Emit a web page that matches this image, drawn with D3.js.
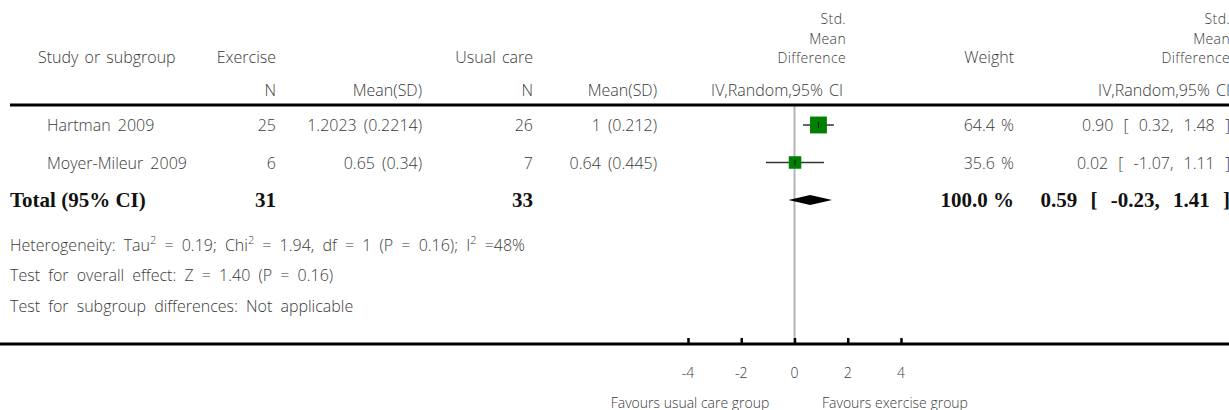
<!DOCTYPE html>
<html><head><meta charset="utf-8">
<script src="https://cdn.jsdelivr.net/npm/d3@7"></script>
<style>
body{margin:0;background:#fff;}
svg{display:block;}
text{font-family:"Open Sans",Lato,sans-serif;fill:#3a3a3a;font-weight:300;}
.b{font-family:"Liberation Serif","Times New Roman",serif;font-weight:bold;fill:#111;}
</style></head><body>
<svg id="c" width="1229" height="410"></svg>
<script>
const studies = ["Hartman 2009", "Moyer-Mileur 2009"];
const expN = [25, 6];
const expMeanSD = ["1.2023 (0.2214)", "0.65 (0.34)"];
const ctlN = [26, 7];
const ctlMeanSD = ["1 (0.212)", "0.64 (0.445)"];
const weights = [64.4, 35.6];
const smd = [0.90, 0.02];
const ciLow = [0.32, -1.07];
const ciHigh = [1.48, 1.11];
const totalExpN = 31, totalCtlN = 33;
const totalWeight = 100.0;
const totalSmd = 0.59, totalLow = -0.23, totalHigh = 1.41;
const axisTicks = [-4, -2, 0, 2, 4];
const favLeft = "Favours usual care group", favRight = "Favours exercise group";

const svg = d3.select("#c");
const W = 1229;
const loc = d3.formatLocale({decimal: ".", thousands: ",", grouping: [3], currency: ["", ""], minus: "-"});
const fmt2 = loc.format(".2f");
const fmtD = loc.format("d");
const x = d3.scaleLinear().domain([-4, 4]).range([688, 901]);
const yRow = d3.scaleLinear().domain([0, 1]).range([125, 162.5]);
const size = d3.scaleSqrt().domain([0, 100]).range([0, 21]);
const fs = 16;

function t(xp, yp, str, anchor, cls, f, ws) {
  return svg.append("text").attr("x", xp).attr("y", yp).attr("text-anchor", anchor || "start")
    .attr("dominant-baseline", "central").attr("class", cls || null)
    .style("font-size", (f || fs) + "px").style("word-spacing", (ws || 0) + "px").text(str);
}
function stack(xp, y0, lines) {
  lines.forEach((l, i) => t(xp, y0 + i * 19.5, l, "end", null, 14).style("letter-spacing", "0.35px"));
}

// header
const colStudy = 38, colEN = 276, colEM = 422, colCN = 533, colCM = 657, colPlot = 846, colW = 1014, colR = 1230;
t(colStudy, 57, "Study or subgroup", "start", null, fs, 2);
t(colEN, 57, "Exercise", "end");
t(colCN, 57, "Usual care", "end", null, fs, 2);
stack(colPlot, 18.5, ["Std.", "Mean", "Difference"]);
t(colW, 57, "Weight", "end");
stack(colR, 18.5, ["Std.", "Mean", "Difference"]);
t(colEN, 90, "N", "end"); t(colEM, 90, "Mean(SD)", "end");
t(colCN, 90, "N", "end"); t(colCM, 90, "Mean(SD)", "end");
t(843, 90, "IV,Random,95% CI", "end", null, fs, 2);
t(colR, 90, "IV,Random,95% CI", "end", null, fs, 2);

// zero line
svg.append("line").attr("x1", x(0)).attr("x2", x(0)).attr("y1", 105).attr("y2", 344)
  .attr("stroke", "#b4b4b4").attr("stroke-width", 2);
// top rule
svg.append("line").attr("x1", 10).attr("x2", W).attr("y1", 105).attr("y2", 105)
  .attr("stroke", "#000").attr("stroke-width", 3);

// study rows
studies.forEach((s, i) => {
  const y = yRow(i);
  t(47, y, s, "start", null, fs, 3);
  t(colEN, y, expN[i], "end");
  t(colEM, y, expMeanSD[i], "end", null, fs, 3);
  t(colCN, y, ctlN[i], "end");
  t(colCM, y, ctlMeanSD[i], "end", null, fs, 3);
  t(colW, y, weights[i].toFixed(1) + " %", "end", null, fs, 2);
  t(colR, y, fmt2(smd[i]) + " [ " + fmt2(ciLow[i]) + ", " + fmt2(ciHigh[i]) + " ]", "end", null, fs, 6);
  svg.append("line").attr("x1", x(ciLow[i])).attr("x2", x(ciHigh[i])).attr("y1", y).attr("y2", y)
    .attr("stroke", "#333").attr("stroke-width", 1.5);
  const sz = size(weights[i]);
  svg.append("rect").attr("x", x(smd[i]) - sz / 2).attr("y", y - sz / 2).attr("width", sz).attr("height", sz)
    .attr("fill", "#008000");
  svg.append("line").attr("x1", x(smd[i])).attr("x2", x(smd[i])).attr("y1", y - 3).attr("y2", y + 3)
    .attr("stroke", "#111").attr("stroke-width", 1);
});

// total row
const yT = yRow(2);
const fb = 21;
t(10, yT, "Total (95% CI)", "start", "b", fb);
t(colEN, yT, totalExpN, "end", "b", fb);
t(colCN, yT, totalCtlN, "end", "b", fb);
t(colW, yT, totalWeight.toFixed(1) + " %", "end", "b", fb);
t(colR, yT, fmt2(totalSmd) + " [ " + fmt2(totalLow) + ", " + fmt2(totalHigh) + " ]", "end", "b", fb, 8);
svg.append("path").attr("d", d3.line()([[x(totalLow), yT], [x(totalSmd), yT - 5], [x(totalHigh), yT], [x(totalSmd), yT + 5]]) + "Z")
  .attr("fill", "#000");

// heterogeneity lines
const h = t(10, 245, "", "start", null, fs, 4);
h.append("tspan").text("Heterogeneity: Tau");
h.append("tspan").attr("dy", -6).style("font-size", "11px").text("2");
h.append("tspan").attr("dy", 6).text(" = 0.19; Chi");
h.append("tspan").attr("dy", -6).style("font-size", "11px").text("2");
h.append("tspan").attr("dy", 6).text(" = 1.94, df = 1 (P = 0.16); I");
h.append("tspan").attr("dy", -6).style("font-size", "11px").text("2");
h.append("tspan").attr("dy", 6).text(" =48%");
t(10, 275, "Test for overall effect: Z = 1.40 (P = 0.16)", "start", null, fs, 4);
t(10, 306, "Test for subgroup differences: Not applicable", "start", null, fs, 4);

// axis
svg.append("line").attr("x1", 0).attr("x2", W).attr("y1", 344).attr("y2", 344)
  .attr("stroke", "#000").attr("stroke-width", 3);
const ax = svg.append("g").attr("transform", "translate(0,344)")
  .call(d3.axisTop(x).tickValues(axisTicks).tickSize(6).tickFormat(""));
ax.select(".domain").remove();
ax.selectAll(".tick line").attr("stroke", "#000").attr("stroke-width", 2.5);
axisTicks.forEach(v => t(x(v), 372, fmtD(v), "middle", null, 14));
t(690, 402, favLeft, "middle", null, 14);
t(822, 402, favRight, "start", null, 14);
</script>
</body></html>
